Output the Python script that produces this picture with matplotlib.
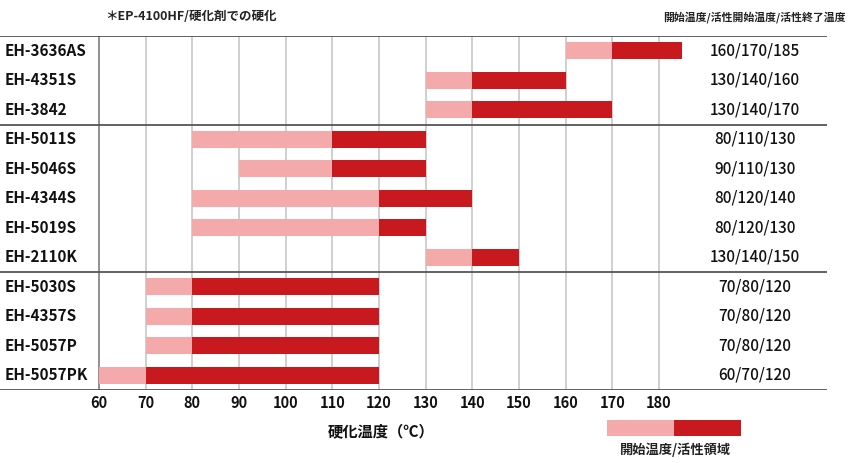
import matplotlib
matplotlib.use("Agg")
import matplotlib.pyplot as plt

plt.rcParams['font.family'] = ['Noto Sans CJK JP', 'DejaVu Sans']

# data
names = ['EH-3636AS', 'EH-4351S', 'EH-3842',
         'EH-5011S', 'EH-5046S', 'EH-4344S', 'EH-5019S', 'EH-2110K',
         'EH-5030S', 'EH-4357S', 'EH-5057P', 'EH-5057PK']
start_temp = [160, 130, 130, 80, 90, 80, 80, 130, 70, 70, 70, 60]
active_start = [170, 140, 140, 110, 110, 120, 120, 140, 80, 80, 80, 70]
active_end = [185, 160, 170, 130, 130, 140, 130, 150, 120, 120, 120, 120]
ticks = [60, 70, 80, 90, 100, 110, 120, 130, 140, 150, 160, 170, 180]
group_breaks = [2.5, 7.5]

light = '#f4a9aa'
dark = '#c8191e'

W, H = 850, 463
fig = plt.figure(figsize=(W / 100, H / 100), dpi=100)

# axes placed in pixel coords: x 0..827, y 36..390
ax = fig.add_axes([0, (H - 390) / H, 827 / W, (390 - 36) / H])
px_per_unit = (379 - 99) / 60.0
ax.set_xlim(60 - 99 / px_per_unit, 60 + (827 - 99) / px_per_unit)
ax.set_ylim(len(names) - 0.5, -0.5)
ax.axis('off')

# grid lines
for t in ticks:
    ax.vlines(t, -0.5, len(names) - 0.5, color='#888888' if t == 60 else '#cccccc',
              lw=1.3, zorder=1)

# horizontal rules
for yb in [-0.5] + group_breaks + [len(names) - 0.5]:
    ax.axhline(yb, color='#555555', lw=1.3, zorder=3)

# bars
ypos = list(range(len(names)))
h = 0.58
ax.barh(ypos, [a - s for s, a in zip(start_temp, active_start)], left=start_temp,
        height=h, color=light, zorder=2)
ax.barh(ypos, [e - a for a, e in zip(active_start, active_end)], left=active_start,
        height=h, color=dark, zorder=2)

for i, n in enumerate(names):
    ax.text(5 / 827, i, n, transform=ax.get_yaxis_transform(), ha='left', va='center',
            fontsize=11, fontweight='bold', color='#111111')
    ax.text(755 / 827, i, f'{start_temp[i]}/{active_start[i]}/{active_end[i]}',
            transform=ax.get_yaxis_transform(), ha='center', va='center',
            fontsize=11, fontweight='medium', color='#111111')

# tick labels
for t in ticks:
    ax.text(t, len(names) - 0.5 + 13 / 29.5, str(t), ha='center', va='center',
            fontsize=10.5, fontweight='bold', color='#111111', clip_on=False)

fig.text(381 / W, 1 - 431 / H, '硬化温度（℃）', ha='center', va='center',
         fontsize=11, fontweight='bold', color='#111111')

fig.text(105 / W, 1 - 17 / H, '＊EP-4100HF/硬化剤での硬化', ha='left', va='center',
         fontsize=9, fontweight='bold', color='#222222')
fig.text(846 / W, 1 - 17 / H, '開始温度/活性開始温度/活性終了温度', ha='right', va='center',
         fontsize=7.8, fontweight='bold', color='#222222')

# legend
lax = fig.add_axes([607 / W, 1 - 436 / H, (741 - 607) / W, 16 / H])
lax.set_xlim(0, 2)
lax.set_ylim(0, 1)
lax.axis('off')
lax.barh([0.5], [1], left=[0], height=1, color=light)
lax.barh([0.5], [1], left=[1], height=1, color=dark)
fig.text(675 / W, 1 - 450 / H, '開始温度/活性領域', ha='center', va='center',
         fontsize=9.5, fontweight='bold', color='#222222')

fig.savefig('out.png', dpi=100)
